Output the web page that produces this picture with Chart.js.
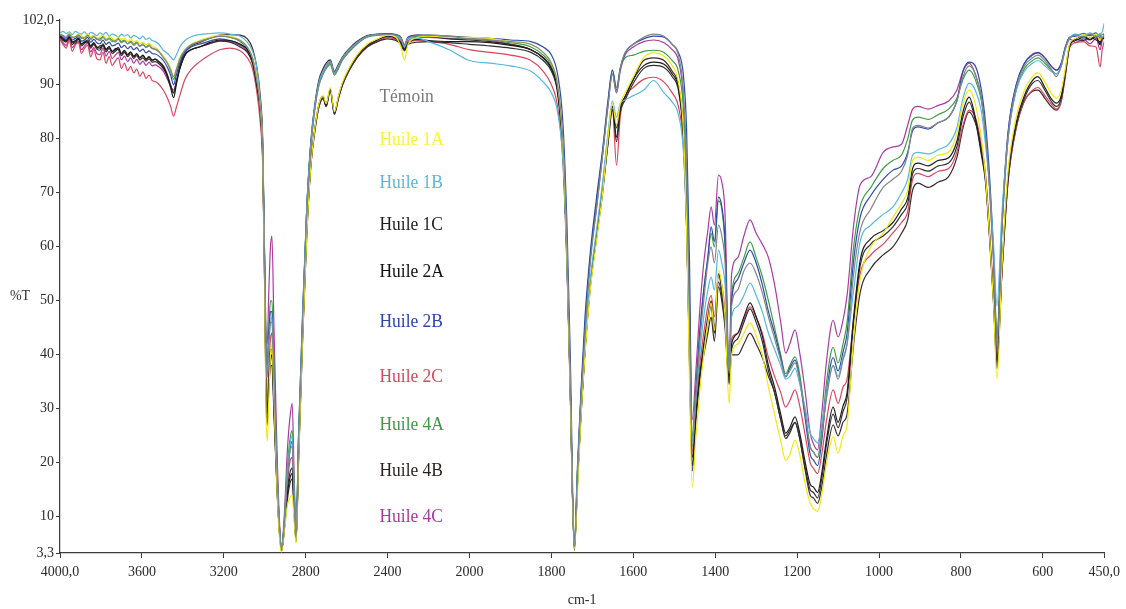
<!DOCTYPE html>
<html>
<head>
<meta charset="utf-8">
<title>Spectres IR</title>
<script src="https://cdn.jsdelivr.net/npm/chart.js@4.4.1/dist/chart.umd.min.js"></script>
<style>
  html, body { margin: 0; padding: 0; background: #ffffff; }
  #wrap { width: 1126px; height: 609px; }
</style>
</head>
<body>
<div id="wrap"><canvas id="spectra" width="1126" height="609"></canvas></div>
<script>
// Wavenumbers (cm-1), high to low
const wavenumbers = [
  4000, 3985, 3970, 3955, 3940, 3925, 3910, 3895, 3880, 3865, 3850, 3835, 3820, 3805, 3790, 3775, 3760,
  3745, 3730, 3715, 3700, 3685, 3670, 3655, 3640, 3625, 3610, 3595, 3580, 3565, 3550, 3535, 3520,
  3495, 3475, 3460, 3445, 3432, 3415, 3390, 3360, 3320, 3270, 3220, 3170, 3120, 3085, 3060, 3040, 3022, 3010, 3002, 2994,
  2988, 2980, 2972, 2965, 2955, 2940, 2928, 2918, 2905, 2890, 2878, 2866, 2856, 2847, 2835, 2815, 2795, 2775, 2755, 2735,
  2715, 2700, 2680, 2660, 2640, 2620, 2590, 2550, 2500, 2450, 2400, 2360, 2335, 2318, 2300, 2250, 2200, 2100, 2000,
  1950, 1900, 1850, 1820, 1800, 1785, 1772, 1762, 1754, 1744, 1736, 1728, 1718, 1705, 1690, 1675, 1662, 1651, 1641, 1632,
  1620, 1600, 1575, 1550, 1525, 1505, 1490, 1478, 1470, 1463, 1456,
  1448, 1438, 1428, 1418, 1410, 1402, 1392, 1384, 1376, 1366, 1360, 1345, 1330, 1315, 1300, 1285, 1270, 1255, 1240, 1228,
  1218, 1205, 1195, 1180, 1168, 1160, 1150, 1140, 1128, 1112, 1100, 1088, 1078, 1062, 1046,
  1020, 990, 966, 945, 930, 918, 905, 880, 855, 830, 810, 795, 780, 765, 750, 740, 730, 720, 712, 700,
  685, 665, 645, 625, 612, 595, 580, 567, 555, 545, 535, 520, 500, 485, 470, 460, 455, 450
];

// Transmittance (%T) for each sample, same order as wavenumbers
const temoin = [
  99.3, 99.1, 98.8, 99.4, 98.7, 98.9, 99.2, 98.6, 98.8, 99.1, 98.4, 98.9, 98.5, 98.2, 98.8, 98.3, 98.5,
  98.0, 98.2, 98.4, 97.8, 98.1, 97.6, 97.9, 97.3, 97.7, 97.1, 97.4, 96.9, 97.2, 96.7, 96.6, 96.3,
  95.0, 94.0, 92.8, 91.5, 92.8, 94.8, 96.4, 97.4, 98.0, 98.6, 99.0, 98.8, 98.2, 97.0, 95.0, 91.0, 86.0, 78.0, 60.0, 38.0,
  36.0, 42.0, 46.0, 46.0, 35.0, 18.0, 8.0, 4.0, 8.0, 17.0, 22.0, 23.0, 13.0, 6.0, 23.0, 46.0, 66.0, 78.0, 85.5, 90.0,
  92.0, 93.2, 94.0, 92.0, 93.2, 94.8, 96.2, 97.6, 98.9, 99.3, 99.4, 99.2, 98.7, 97.3, 98.7, 99.1, 99.2, 99.0, 98.5,
  98.3, 98.0, 97.5, 96.0, 94.0, 90, 80, 60, 35, 4.5, 18, 31, 44, 57, 67, 77, 86, 92, 88.5, 93,
  96, 97.5, 98.8, 99.4, 99, 97.5, 95.5, 89, 75, 48, 23,
  31, 42, 50, 57, 60, 57, 64, 62, 57, 36.5, 49, 52, 55.5, 57, 55, 51.5, 47, 43, 39, 36,
  37, 38.5, 36, 29, 23, 22, 21, 25, 32, 38, 35.5, 39, 42, 55, 63,
  67, 71, 72.5, 74, 77, 82, 82.5, 82, 83, 84, 87, 91.5, 93.5, 92, 87.5, 81, 71, 57, 42, 63,
  80, 89.5, 93.5, 95, 95.5, 94.5, 93, 91.5, 93.5, 96.8, 98.5, 99.2, 98.8, 99.4, 98.9, 99.3, 98.7, 99.2
];
const huile1A = [
  99.5, 99.2, 99.0, 99.6, 98.8, 98.9, 99.4, 99.1, 98.6, 99.5, 98.9, 99.2, 98.7, 98.8, 99.2, 98.5, 98.9,
  98.6, 98.2, 98.9, 98.4, 98.6, 98.0, 98.5, 97.9, 98.2, 97.6, 97.9, 97.4, 97.7, 97.1, 96.9, 96.4,
  95.2, 94.2, 93.0, 91.5, 93.0, 95.0, 96.5, 97.5, 98.2, 98.8, 99.2, 99.0, 98.3, 97.0, 95.0, 91.5, 86.0, 77.0, 57.0, 30.0,
  24.0, 32.0, 40.0, 42.0, 32.0, 15.0, 6.0, 3.5, 7.0, 12.0, 13.5, 14.0, 9.0, 5.0, 20.0, 43.0, 62.0, 75.0, 82.0, 86.5,
  88.0, 86.5, 89.5, 85.0, 88.0, 90.5, 93.0, 95.5, 97.5, 98.5, 99.2, 98.8, 97.0, 94.6, 97.5, 98.8, 99.0, 98.8, 98.8,
  98.6, 98.0, 97.5, 96.0, 94.0, 90, 79, 58, 33, 4.0, 15, 28, 40, 52, 61, 70, 80, 86.6, 82.6, 86.5,
  88.5, 91.5, 95, 95.9, 95.3, 93.5, 90.5, 82, 64, 36, 15.5,
  24, 33, 40, 46, 49.6, 44.5, 55.7, 53, 47, 31, 40, 42, 44, 45.9, 43.5, 40, 34, 29, 24, 20.5,
  21.5, 24.2, 22, 16, 12.5, 11.5, 11, 14, 20, 24.8, 21.8, 25, 27, 43, 54,
  60, 62.5, 65.5, 68, 70.5, 76, 76.6, 76, 77, 77.5, 81, 86.5, 89, 86.5, 80, 73, 62, 49, 35.5, 56,
  74, 84, 89, 91.5, 92.2, 90.5, 88.5, 87.5, 89, 93, 97.5, 98.6, 99.3, 98.7, 99.4, 98.2, 99.2, 99.0
];
const huile1B = [
  99.6, 99.9, 99.5, 99.8, 99.3, 99.9, 99.6, 99.4, 99.8, 99.2, 99.7, 99.5, 99.1, 99.6, 99.3, 99.7, 99.0,
  99.4, 99.2, 98.8, 99.4, 99.0, 99.3, 98.7, 99.1, 98.9, 98.5, 99.0, 98.4, 98.7, 98.2, 98.0, 97.6,
  96.4, 95.8, 95.2, 94.6, 95.5, 97.0, 98.2, 98.9, 99.3, 99.5, 99.6, 99.4, 99.0, 97.9, 96.2, 93.5, 87.0, 78.5, 60.0, 38.0,
  36.0, 42.0, 46.0, 47.0, 35.0, 18.0, 8.0, 4.5, 8.5, 18.0, 23.0, 25.0, 14.0, 6.5, 24.0, 47.0, 67.0, 79.0, 86.0, 90.5,
  92.5, 93.5, 94.3, 92.2, 93.5, 95.0, 96.4, 97.8, 99.0, 99.3, 99.3, 99.0, 98.5, 97.0, 98.5, 98.6, 98.0, 96.5, 94.5,
  94.0, 93.5, 92.5, 90.5, 88.5, 85, 76, 57, 34, 5.0, 19, 31, 42, 54, 63, 72, 81, 87, 84, 86.5,
  87.2, 88, 89, 90.8, 88.5, 86.8, 84.5, 78, 64, 42, 24,
  31, 40, 47, 52, 54.4, 52, 59.4, 57, 53, 37, 47, 49, 51, 53.3, 51, 48, 44, 41, 38, 35.5,
  36, 37.5, 35, 30, 25.5, 24.5, 23.7, 27, 33, 38, 36, 39.5, 42, 52, 61,
  64, 66, 67.4, 70, 72.5, 77, 77.5, 77.2, 78, 79, 82, 87.5, 90.3, 89, 85, 79, 71, 60, 49, 66,
  80, 89, 92.5, 94, 94.5, 93.5, 92.5, 92, 93.5, 96.5, 98.6, 99.4, 99.0, 99.6, 99.2, 99.5, 99.8, 101.4
];
const huile1C = [
  99.0, 98.4, 98.1, 98.9, 97.9, 98.2, 98.6, 97.6, 97.9, 98.3, 97.2, 97.8, 97.0, 96.8, 97.6, 96.6, 97.1,
  96.2, 96.5, 96.9, 95.8, 96.4, 95.6, 96.1, 95.3, 95.8, 95.0, 95.5, 94.8, 95.2, 94.6, 94.7, 94.3,
  93.3, 91.5, 89.5, 87.6, 90.0, 93.0, 95.5, 96.5, 97.0, 97.8, 98.3, 98.2, 97.5, 96.5, 94.5, 90.5, 85.5, 77.0, 58.0, 32.0,
  27.0, 34.0, 39.0, 40.0, 30.0, 15.0, 7.0, 3.6, 7.5, 14.0, 17.0, 18.0, 11.0, 5.5, 21.0, 44.0, 63.0, 75.5, 82.0, 86.5,
  87.8, 86.2, 89.2, 84.8, 87.8, 90.3, 92.8, 95.3, 97.3, 98.3, 99.0, 98.6, 97.8, 96.6, 97.8, 98.4, 98.2, 98.0, 98.0,
  97.8, 97.3, 96.5, 95.0, 93.0, 89, 78, 58, 34, 4.0, 17, 29, 41, 53, 62, 70.5, 79.5, 86, 80.3, 85.5,
  87.8, 91, 93.5, 94.2, 93.8, 92, 89.5, 81, 65, 40, 19.5,
  28, 36, 42, 47, 50, 45, 55, 52, 47, 36, 42, 44, 47, 49.6, 47, 43.5, 38, 34, 29, 25.5,
  26.5, 28.5, 26, 20, 16, 15.5, 14.5, 18, 24.5, 30.3, 27.5, 30.5, 33, 47, 57.5,
  61.5, 63, 64.5, 67, 69, 74.5, 75.5, 75, 76, 76.5, 79.5, 85, 87.7, 84, 77.5, 72.5, 62, 49.5, 38.5, 56,
  73, 83, 88, 90.8, 91.5, 89.5, 87.5, 86.6, 88, 92.5, 97.2, 98.2, 98.8, 98.3, 98.9, 97.6, 98.8, 98.5
];
const huile2A = [
  99.1, 98.6, 98.2, 98.7, 98.0, 97.7, 98.5, 97.5, 98.0, 97.9, 97.1, 97.7, 96.8, 97.2, 97.3, 96.4, 96.9,
  96.1, 96.7, 96.5, 95.7, 96.3, 95.5, 96.0, 95.2, 95.7, 95.0, 95.4, 94.7, 95.1, 94.5, 94.8, 94.4,
  93.5, 91.8, 90.0, 88.5, 90.5, 93.0, 95.5, 96.5, 97.0, 97.6, 98.1, 97.9, 97.0, 96.0, 94.0, 90.0, 85.0, 76.0, 57.0, 34.0,
  29.0, 35.0, 41.0, 41.0, 31.0, 16.0, 7.0, 3.8, 7.5, 15.0, 18.0, 19.0, 11.0, 5.5, 20.0, 43.0, 62.0, 75.0, 81.5, 86.0,
  87.5, 86.0, 89.0, 84.5, 87.5, 90.0, 92.5, 95.0, 97.0, 98.0, 98.5, 98.2, 97.5, 96.3, 97.5, 97.9, 98.0, 97.8, 97.5,
  97.2, 96.8, 96.0, 94.5, 92.5, 88.5, 77.5, 57, 33, 3.8, 16.5, 28.5, 40.5, 52.5, 61.5, 70, 79, 85.3, 79.5, 85,
  87.2, 90.3, 93, 93.6, 93.2, 91.5, 89, 80.5, 64, 39, 18.5,
  27, 35, 41, 46, 49, 44, 53.5, 51, 46, 35, 41, 43, 46, 48.5, 46, 42.5, 37, 33, 28, 24.5,
  25.5, 27.5, 25, 19, 15, 14.5, 13.5, 17, 23.5, 29, 26.5, 29.5, 32, 46, 56.5,
  60.5, 62, 63.7, 66, 68, 73.5, 74.5, 74, 75, 75.5, 78.5, 84, 86.8, 83.5, 77, 72, 61.5, 49, 37.5, 55,
  72.5, 82.5, 87.5, 90.3, 90.8, 89, 87, 86, 87.5, 92, 97, 98.4, 98.2, 98.8, 98.3, 98.0, 98.6, 98.9
];
const huile2B = [
  99.2, 98.7, 98.4, 99.1, 98.3, 98.6, 98.9, 98.1, 98.3, 98.8, 97.9, 98.4, 97.8, 97.6, 98.3, 97.5, 97.9,
  97.2, 97.4, 97.7, 96.9, 97.3, 96.7, 97.1, 96.5, 96.9, 96.2, 96.6, 95.9, 96.3, 95.8, 95.7, 95.4,
  94.5, 93.2, 91.8, 90.0, 91.8, 94.0, 96.0, 97.0, 97.5, 98.1, 98.5, 98.2, 97.5, 96.5, 94.5, 91.0, 86.5, 79.0, 61.0, 40.0,
  38.0, 44.0, 48.0, 48.0, 36.0, 19.0, 8.0, 4.5, 8.5, 17.0, 22.0, 24.0, 14.0, 6.5, 25.0, 48.0, 67.0, 79.0, 86.0, 90.5,
  92.5, 93.5, 94.3, 92.2, 93.5, 95.0, 96.4, 97.8, 99.0, 99.3, 99.4, 99.2, 98.7, 97.2, 98.8, 99.2, 99.2, 99.0, 98.8,
  98.6, 98.3, 98.0, 97.0, 95.5, 92, 83, 64, 40, 5.5, 20, 33, 47, 59, 69, 78, 87, 92.7, 89, 93,
  95.9, 97.5, 98.5, 99, 98.8, 97.5, 96, 92, 82, 58, 24,
  32, 44, 52, 58, 63.7, 61, 69.2, 67.5, 61, 35.5, 50, 54, 57, 59.4, 57, 53, 48, 44, 39.5, 35.9,
  37.5, 39, 36, 28, 21.5, 20.5, 19.5, 24, 33, 39.5, 37, 40.5, 44, 57.5, 65.5,
  69.5, 72.5, 74.2, 75, 77.5, 81.5, 82.2, 81.8, 83, 84, 87, 92.5, 94.2, 93.5, 89, 83, 73, 58, 41, 64,
  81, 90, 94, 95.5, 95.9, 95, 93.5, 92.7, 94, 97, 98.8, 99.0, 99.5, 99.1, 99.6, 98.6, 99.3, 99.4
];
const huile2C = [
  98.4, 97.5, 96.8, 98.2, 96.2, 97.4, 97.8, 95.8, 96.8, 97.3, 95.2, 96.5, 94.8, 94.6, 96.0, 94.0, 95.2,
  93.6, 94.4, 95.0, 93.0, 94.0, 92.6, 93.4, 92.2, 92.9, 91.6, 92.4, 91.2, 91.8, 90.8, 90.6, 90.2,
  89.0, 87.5, 86.0, 84.2, 85.8, 88.0, 91.0, 92.8, 94.2, 95.5, 96.5, 96.8, 96.3, 95.0, 93.0, 89.0, 83.0, 75.0, 57.0, 36.0,
  32.0, 38.0, 43.0, 44.0, 33.0, 17.0, 8.0, 4.0, 8.0, 16.0, 20.0, 21.0, 12.0, 6.0, 21.0, 43.0, 62.0, 75.0, 81.5, 86.0,
  87.5, 86.2, 89.2, 84.8, 87.6, 90.0, 92.5, 95.0, 97.0, 98.0, 98.8, 98.4, 97.8, 96.5, 97.8, 98.2, 98.0, 97.5, 96.5,
  96.0, 95.5, 94.5, 92.5, 90.0, 86, 76, 56, 33, 5.0, 17, 29, 41, 53, 62, 70.5, 79, 85.5, 75.1, 84,
  87.8, 89.5, 91, 91.4, 90.5, 88.5, 86, 79, 64, 42, 22,
  30, 38, 44, 49, 51, 47, 55, 53, 48, 36, 43, 44, 46.5, 48.9, 47, 44, 39.5, 36, 33, 30.3,
  31.5, 33.5, 31, 25, 20, 19, 18, 21.5, 28, 33.5, 31, 34, 35.5, 46.5, 55,
  58.5, 60.5, 62.6, 64.5, 66.5, 72.5, 73.6, 73, 74, 74.5, 77.5, 82.5, 85.3, 84, 79, 73.5, 63, 51, 40, 55,
  72, 82, 87, 89, 89.5, 88, 86.5, 85.5, 87, 91.5, 96.8, 97.8, 98.0, 97.2, 97.0, 93.3, 96.5, 98.0
];
const huile4A = [
  99.4, 99.0, 98.7, 99.5, 98.9, 98.6, 99.3, 98.8, 98.5, 99.2, 98.6, 99.0, 98.4, 98.5, 99.0, 98.2, 98.7,
  98.3, 97.9, 98.6, 98.0, 98.3, 97.6, 98.1, 97.5, 97.9, 97.2, 97.6, 97.0, 97.4, 96.8, 96.6, 96.2,
  95.2, 94.0, 92.6, 91.0, 92.6, 94.6, 96.2, 97.3, 98.0, 98.6, 99.0, 98.8, 98.0, 96.8, 95.0, 91.5, 86.0, 78.0, 60.0, 40.0,
  38.0, 45.0, 50.0, 50.0, 38.0, 19.0, 8.0, 4.5, 9.0, 19.0, 24.0, 26.0, 15.0, 7.0, 25.0, 47.0, 67.0, 79.0, 86.0, 90.0,
  92.0, 93.0, 93.8, 91.8, 93.0, 94.6, 96.0, 97.5, 98.8, 99.2, 99.3, 99.1, 98.6, 97.2, 98.6, 99.0, 99.0, 98.8, 98.5,
  98.3, 97.8, 97.0, 95.5, 93.5, 89.5, 79, 60, 35, 4.5, 19, 32, 45, 58, 68, 77.5, 86.5, 92.7, 89.5, 93,
  95, 95.5, 96.2, 96.4, 96, 94.5, 92.5, 86, 72, 48, 25,
  33, 44, 52, 58, 62.5, 60, 68.5, 67, 60, 36, 51, 55, 58, 60.9, 58, 54.5, 50, 45, 40, 36.5,
  38, 39.6, 37, 29, 23, 22, 21, 26, 35, 41.4, 38.5, 42, 46, 60, 67.5,
  71, 74.5, 76, 77, 80, 83.5, 84, 83.6, 84.5, 85.5, 87.5, 91, 92.7, 91, 87, 81, 71, 58, 44, 63,
  80, 89, 93, 94.5, 95, 94, 92.8, 92, 93.5, 96.8, 98.5, 99.3, 98.7, 99.4, 98.9, 99.1, 98.6, 99.3
];
const huile4B = [
  98.9, 98.2, 97.9, 98.8, 97.5, 98.1, 98.4, 97.2, 97.7, 98.0, 96.8, 97.5, 96.6, 96.4, 97.3, 96.1, 96.8,
  95.8, 96.2, 96.6, 95.4, 96.0, 95.2, 95.7, 94.9, 95.4, 94.6, 95.0, 94.4, 94.8, 94.2, 94.3, 94.0,
  93.0, 91.5, 89.8, 88.5, 90.5, 93.5, 96.0, 97.2, 97.8, 98.6, 99.2, 99.3, 99.2, 98.5, 96.8, 93.5, 88.0, 80.0, 62.0, 36.0,
  30.0, 34.0, 38.0, 38.0, 29.0, 15.0, 7.0, 3.7, 7.5, 13.0, 16.0, 17.0, 10.0, 5.5, 22.0, 46.0, 67.0, 79.5, 86.5, 91.0,
  93.0, 94.0, 94.6, 92.5, 93.8, 95.2, 96.6, 98.0, 99.1, 99.4, 99.5, 99.3, 98.8, 97.4, 98.8, 99.2, 99.0, 98.5, 98.3,
  98.0, 97.5, 96.5, 95.0, 93.0, 89, 78, 58, 34, 4.2, 17, 29, 41, 53, 62, 71, 80, 86, 82, 86,
  87.8, 91, 94.5, 95, 94.5, 92.5, 90, 82, 66, 40, 21,
  29, 36, 40, 44, 47, 42.5, 52.6, 50, 45, 34.5, 40, 40, 42, 44, 42, 39.5, 36, 33, 28, 25,
  26, 27.5, 25, 18.5, 14, 13.5, 12.5, 15.5, 21.5, 27, 25, 27.5, 29, 42, 51.5,
  56, 58.5, 60, 62.5, 65, 70.5, 71.8, 71, 72, 73, 76.5, 82, 85, 83, 78.5, 73, 62, 50, 39, 55,
  72, 82, 87, 88.8, 89, 87.5, 86, 85.3, 87, 92, 97, 98.5, 99.0, 98.4, 99.1, 97.4, 98.8, 98.6
];
const huile4C = [
  98.6, 97.8, 97.3, 98.5, 96.9, 97.6, 98.0, 96.5, 97.2, 97.7, 96.1, 96.9, 95.8, 95.6, 96.8, 95.3, 96.2,
  94.9, 95.5, 96.0, 94.6, 95.3, 94.3, 95.0, 94.0, 94.7, 93.8, 94.4, 93.6, 94.2, 93.5, 93.7, 93.4,
  92.5, 91.0, 89.8, 89.0, 90.5, 93.0, 95.5, 96.5, 97.0, 97.6, 98.2, 98.0, 97.3, 96.2, 94.0, 90.0, 85.0, 77.0, 60.0, 44.0,
  42.0, 52.0, 60.0, 62.0, 45.0, 22.0, 9.0, 4.5, 10.0, 22.0, 28.0, 31.0, 17.0, 7.5, 24.0, 45.0, 63.0, 75.0, 82.0, 86.0,
  87.5, 86.0, 89.0, 84.6, 87.5, 90.0, 92.5, 95.0, 97.2, 98.3, 99.1, 98.8, 98.2, 96.8, 98.2, 98.8, 98.8, 98.6, 98.5,
  98.2, 97.5, 96.5, 95.0, 93.0, 89, 78, 58, 34, 5.0, 19, 32, 45, 58, 67, 77, 86, 92, 88.5, 92.5,
  95.5, 97, 98, 98.3, 97.8, 96.5, 94.5, 88, 74, 50, 28,
  36, 48, 57, 63, 67.4, 64, 73.3, 72, 66, 37, 55, 58, 62, 65, 62.5, 60.5, 58, 53, 46, 40.3,
  42, 44.6, 41, 33, 25.5, 23.5, 22.4, 29, 39, 46.4, 43.3, 46.4, 51, 64, 71.5,
  73, 77.5, 78.5, 79, 82.5, 85.5, 86, 85.5, 86.2, 87, 89, 92.5, 94, 92, 87.5, 81, 71, 57, 43, 64,
  81, 90, 94, 95.7, 96, 95, 93.5, 92.7, 94, 97, 98.5, 97.8, 98.5, 97.6, 98.6, 96.5, 98.2, 98.8
];

const sampleNames = ['Témoin', 'Huile 1A', 'Huile 1B', 'Huile 1C', 'Huile 2A', 'Huile 2B', 'Huile 2C', 'Huile 4A', 'Huile 4B', 'Huile 4C'];
const sampleSeries = [temoin, huile1A, huile1B, huile1C, huile2A, huile2B, huile2C, huile4A, huile4B, huile4C];

// Axis ticks
const xTickValues = [4000, 3600, 3200, 2800, 2400, 2000, 1800, 1600, 1400, 1200, 1000, 800, 600, 450];
const yTickValues = [3.3, 10, 20, 30, 40, 50, 60, 70, 80, 90, 102];

// Styling
const lineColors = ['#80868a', '#f1e816', '#55b8dc', '#1c1c1c', '#303030', '#2c4ba6', '#d8465d', '#3e9c47', '#3e2828', '#a93aa2'];
const labelColors = ['#7a7a7a', '#fbf33a', '#5db6de', '#1e1e1e', '#111111', '#2d46a3', '#d9485c', '#3f9a46', '#2a1f1f', '#a63ba2'];
// Label rows for the sample names, placed in data units (%T) at a fixed wavenumber
const labelAnchorWavenumber = 2440;
const labelRows = [87.7, 79.8, 71.8, 64.0, 55.3, 46.1, 35.9, 27.0, 18.5, 10.0];

const FONT = "'Liberation Serif', 'DejaVu Serif', serif";
const BREAK_AT = 2000;

// Linear scale with a 2x expansion below 2000 cm-1, as on the instrument plot
class WarpedLinearScale extends Chart.LinearScale {
  warp(v) {
    const hi = this.max;
    return v >= BREAK_AT ? (hi - v) / 2 : (hi - BREAK_AT) / 2 + (BREAK_AT - v);
  }
  getPixelForValue(v) {
    return this.getPixelForDecimal(this.warp(v) / this.warp(this.min));
  }
  getValueForPixel(p) {
    const d = this.getDecimalForPixel(p) * this.warp(this.min);
    const knee = (this.max - BREAK_AT) / 2;
    return d <= knee ? this.max - 2 * d : BREAK_AT - (d - knee);
  }
}
WarpedLinearScale.id = 'warped';
WarpedLinearScale.defaults = Chart.LinearScale.defaults;
Chart.register(WarpedLinearScale);

function fmtComma(v, digits) {
  return v.toFixed(digits).replace('.', ',');
}

const sampleLabels = {
  id: 'sampleLabels',
  afterDatasetsDraw(chart) {
    const { ctx, scales } = chart;
    const x = scales.x.getPixelForValue(labelAnchorWavenumber);
    ctx.save();
    ctx.font = '19px ' + FONT;
    ctx.textBaseline = 'middle';
    ctx.textAlign = 'left';
    sampleNames.forEach((name, i) => {
      const y = scales.y.getPixelForValue(labelRows[i]);
      ctx.save();
      ctx.translate(x, y);
      ctx.scale(0.92, 1);
      ctx.fillStyle = labelColors[i];
      ctx.fillText(name, 0, 0);
      ctx.restore();
    });
    // y-axis title, written horizontally
    ctx.font = '14px ' + FONT;
    ctx.fillStyle = '#333';
    ctx.textAlign = 'center';
    ctx.fillText('%T', 20, (chart.chartArea.top + chart.chartArea.bottom) / 2 + 10);
    ctx.restore();
  }
};

const datasets = sampleSeries.map((series, i) => ({
  label: sampleNames[i],
  data: wavenumbers.map((w, k) => ({ x: w, y: series[k] })),
  borderColor: lineColors[i],
  borderWidth: 1.2,
  pointRadius: 0,
  fill: false,
  cubicInterpolationMode: 'monotone'
}));

new Chart(document.getElementById('spectra'), {
  type: 'line',
  data: { datasets },
  plugins: [sampleLabels],
  options: {
    responsive: false,
    animation: false,
    devicePixelRatio: 1,
    parsing: false,
    layout: { padding: { left: 0, right: 21, top: 20, bottom: 0 } },
    plugins: { legend: { display: false }, tooltip: { enabled: false } },
    scales: {
      x: {
        type: 'warped',
        min: 450,
        max: 4000,
        afterFit(scale) { scale.height = 56; },
        afterBuildTicks(scale) { scale.ticks = xTickValues.map(value => ({ value })); },
        border: { display: true, color: '#3a3a3a', width: 1.2 },
        grid: { display: true, drawOnChartArea: false, drawTicks: true, tickLength: 5, color: '#3a3a3a' },
        ticks: {
          autoSkip: false,
          maxRotation: 0,
          padding: 6,
          color: '#2a2a2a',
          font: { family: FONT, size: 14 },
          callback: (v) => (v === 4000 || v === 450) ? fmtComma(v, 1) : String(v)
        },
        title: {
          display: true,
          text: 'cm-1',
          color: '#2a2a2a',
          font: { family: FONT, size: 14 },
          padding: { top: 0, bottom: 0 }
        }
      },
      y: {
        type: 'linear',
        min: 3.3,
        max: 102,
        afterFit(scale) { scale.width = 60; },
        afterBuildTicks(scale) { scale.ticks = yTickValues.map(value => ({ value })); },
        border: { display: true, color: '#3a3a3a', width: 1.2 },
        grid: { display: true, drawOnChartArea: false, drawTicks: true, tickLength: 4, color: '#3a3a3a' },
        ticks: {
          padding: 2,
          color: '#2a2a2a',
          font: { family: FONT, size: 14 },
          callback: (v) => v === 3.3 ? '3,3' : (v === 102 ? '102,0' : String(v))
        }
      }
    }
  }
});
</script>
</body>
</html>
